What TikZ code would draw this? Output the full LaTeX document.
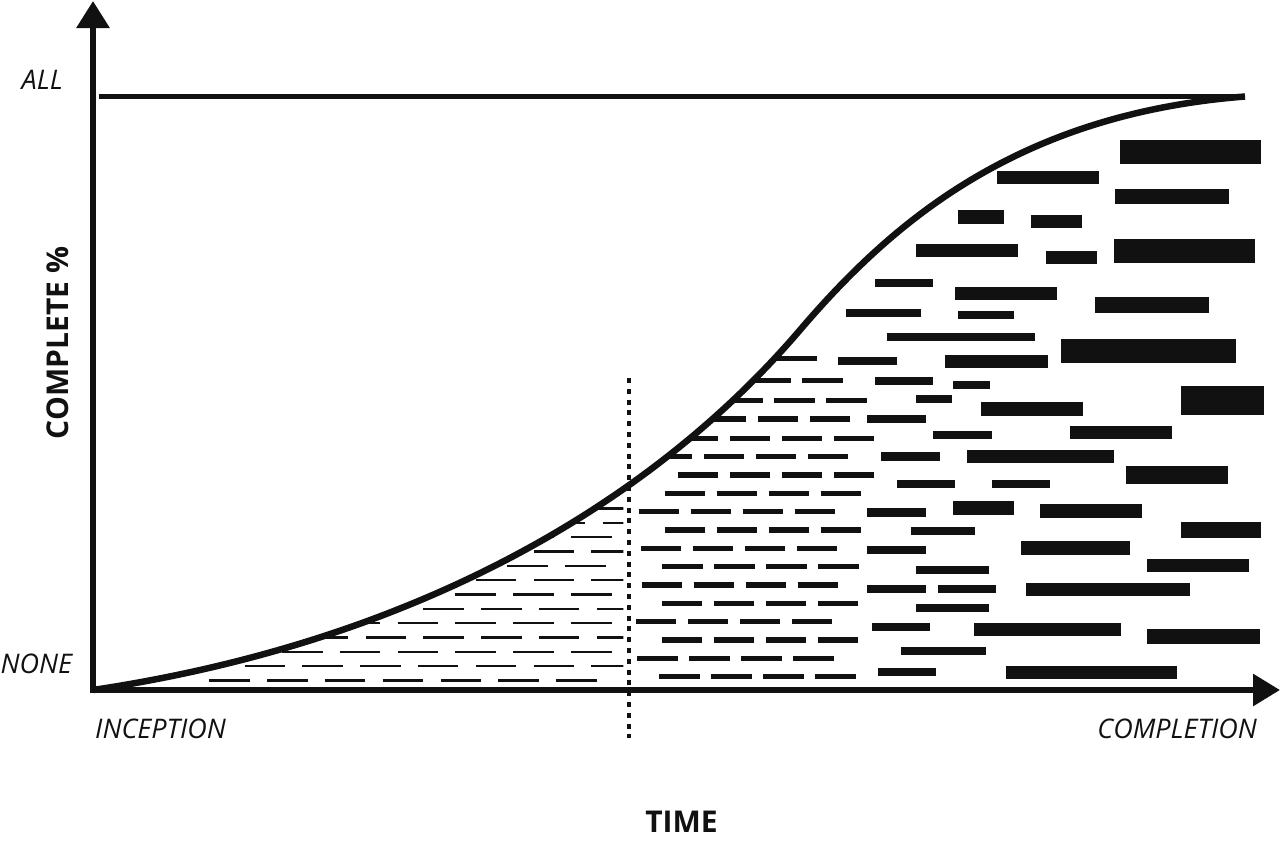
\documentclass[tikz,border=0pt]{standalone}
\usepackage{fontspec}
\setmainfont{Open Sans}
\usetikzlibrary{arrows.meta}

\definecolor{inkblack}{RGB}{17,17,17}

\begin{document}
\begin{tikzpicture}[x=1pt, y=-1pt,
    axis/.style={line width=6pt, inkblack, line join=miter},
    scurve/.style={line width=6.5pt, inkblack},
    thindash/.style={line width=2.4pt, inkblack},
    middash/.style={line width=5.5pt, inkblack},
    cutline/.style={line width=4.3pt, inkblack, dash pattern=on 5pt off 5.8pt},
    tag/.style={font=\fontsize{27}{32}\selectfont\itshape, inner sep=0pt, inkblack},
    title/.style={font=\fontsize{30}{36}\selectfont\bfseries, inner sep=0pt, inkblack}]
    \useasboundingbox (0,0) rectangle (1280,846);

    % Axes
    \coordinate (origin) at (93,690);
    \coordinate (ytop) at (93,1);
    \coordinate (xend) at (1280,690);
    \draw[axis, {Triangle[width=32pt, length=27pt]}-{Triangle[width=31pt, length=27pt]}] (ytop) -- (origin) -- (xend);

    % Upper limit
    \coordinate (allstart) at (99,96.5);
    \coordinate (allend) at (1245,96.5);
    \draw[line width=5.5pt, inkblack] (allstart) -- (allend);

    % Progress curve
    \draw[scurve] (origin) .. controls (413,642) and (650,505.5) .. (800,330)
        .. controls (890,224.7) and (1015,114.4) .. (allend);

    % Thin hatching before the cut
    \begin{scope}
        \clip (origin) .. controls (413,642) and (650,505.5) .. (800,330)
            .. controls (890,224.7) and (1015,114.4) .. (allend) -- (1245,690) -- cycle;
        \clip (93,0) rectangle (623.3,690);
        \foreach \y/\s/\n in {680.3/209.3/6, 666/244.5/6, 651.7/282/5, 637.3/307.7/5,
                623/339.8/4, 608.7/423.3/3, 594.3/397.6/3, 580/475.7/2, 565.7/507.3/1,
                551.3/533.5/1, 537/513.2/1, 522.7/544.9/1, 508.3/598.3/0}
            \foreach \k in {0,...,\n}
                \draw[thindash] ({\s+\k*57.8},\y) -- ++(40.5,0);
    \end{scope}

    % Medium hatching after the cut
    \begin{scope}
        \clip (origin) .. controls (413,642) and (650,505.5) .. (800,330)
            .. controls (890,224.7) and (1015,114.4) .. (allend) -- (1245,690) -- cycle;
        \foreach \y/\s/\n in {676.7/659.3/3, 658.3/637.3/3, 640/661.7/3, 621.7/635.7/3,
                603.3/661.7/3, 585/641.7/3, 566.7/662/3, 548.3/640.7/3, 530/664.7/3,
                511.7/638.7/3, 493.3/664.7/3, 475/677.7/3, 456.7/651.7/3, 438.3/677.7/3,
                419/705.7/2, 400.3/722.3/2, 380.7/750.3/1, 358.3/776.7/0}
            \foreach \k in {0,...,\n}
                \draw[middash] ({\s+\k*52},\y) -- ++(40.5,0);
    \end{scope}

    % Heavy bars near completion
    \foreach \xa/\ya/\xb/\yb in {
            1120.3/140/1260.7/164, 996.7/170.7/1098.7/184, 1115/188.7/1229/204.3,
            958.3/210.3/1004.3/223.7, 1031.3/215.3/1082.3/228.3, 916.3/244.3/1018.3/257.3,
            1046/251.3/1097/264.3, 1114.3/238.7/1254.7/263, 875/279.3/933.3/287,
            954.7/287.3/1056.7/300.3, 1095.3/297.3/1209.3/313, 845.7/308.7/921/316.7,
            957.7/311.3/1014.3/319.3, 886.7/333/1035.3/341, 838.3/357.3/896.7/365.3,
            945.3/354.7/1047.7/368, 1061.3/339.3/1235.7/363.3, 875/376.7/933.3/384.7,
            953.3/381/989.7/389, 916.3/395.3/952.3/403.3, 981.3/402.3/1083.3/415.7,
            1180.7/385.7/1264.3/415, 867.3/415/926/423.3, 933.3/430.7/992/439,
            1070/426/1172.3/439.3, 881.3/452.3/939.7/460.7, 967.3/449.7/1114/463.3,
            1125.7/465.7/1228/484.3, 896.7/480.3/955.3/488.3, 991.7/480.3/1050/488.3,
            867.3/508.3/926/516.7, 952.7/501.3/1014.3/514.7, 1040/504.3/1142.3/517.7,
            910.7/527.3/974.7/535.3, 1180.7/522/1260.7/537.7, 867.3/546/926/554.3,
            1020.7/541.3/1130/555, 915.7/565.7/988.7/573.7, 1146.7/558.7/1249/572.3,
            867.3/585.3/926/593.3, 938/585.3/996.3/593.3, 1026/582.7/1190.3/596,
            915.7/604.3/988.7/612.3, 872/623.3/930.3/631.3, 974.3/623.3/1121/636.3,
            1146.7/628.7/1260.3/644.3, 901.3/647.3/985.7/655.3, 877.7/668.3/936.3/676.3,
            1005.7/665.7/1176.7/679}
        \fill[inkblack] (\xa,\ya) rectangle (\xb,\yb);

    % Cut line
    \coordinate (cuttop) at (629.3,378);
    \coordinate (cutbot) at (629.3,738);
    \draw[cutline] (cuttop) -- (cutbot);

    % Labels
    \node[tag] (alllabel) at (42.2,80) {ALL};
    \node[tag] (nonelabel) at (36.3,663.5) {NONE};
    \node[tag, anchor=west] (inception) at (95,728.5) {INCEPTION};
    \node[tag, anchor=east] (completion) at (1257,728.5) {COMPLETION};
    \node[title, rotate=90] (ylabel) at (58,343) {COMPLETE \%};
    \node[title] (xlabel) at (681.5,822) {TIME};
\end{tikzpicture}
\end{document}
